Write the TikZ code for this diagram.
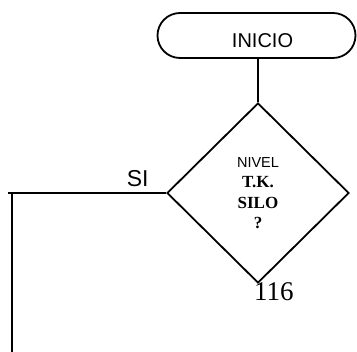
\documentclass[tikz,border=0pt]{standalone}
\usepackage{fontspec}
\setmainfont{Liberation Sans}
\newfontfamily\tnr{Liberation Serif}
\usetikzlibrary{shapes,positioning}

\begin{document}
\begin{tikzpicture}[x=1pt,y=1pt]
    \tikzset{terminal/.style = {shape=rounded rectangle,draw,line width=1.8pt,minimum width=198pt,minimum height=45pt,inner sep=0pt}}
    \tikzset{decision/.style = {shape=diamond,draw,line width=1.8pt,minimum width=182pt,minimum height=180pt,inner sep=0pt,align=center}}
    \tikzset{edge/.style = {line width=1.8pt}}
    \useasboundingbox (0,0) rectangle (357,-352);
    % vertices
    \node[terminal,font=\fontsize{20}{22}\selectfont] (inicio) at (256.5,-35.5)
        {\hspace*{12pt}\raisebox{-5pt}[\height][\depth]{INICIO}};
    \node[decision,font=\tnr\bfseries\fontsize{17}{20.5}\selectfont] (nivel) at (258,-193)
        {{\normalfont\fontsize{14.5}{20.5}\selectfont NIVEL}\\ T.K.\\ SILO\\ ?};
    \node[anchor=base west,inner sep=0pt] (num) at (254,-301) {\tnr\fontsize{27}{30}\selectfont 116};
    \coordinate (si) at (8,-193);
    \coordinate (codo) at (12,-193);
    \coordinate (fin) at (12,-352);
    \draw[edge] (nivel.north |- inicio.south) -- (nivel.north);
    \draw[edge] (nivel.west) -- (si) node[pos=0.18,anchor=base,yshift=6pt] {\fontsize{23}{25}\selectfont SI};
    \draw[line width=1.3pt] (codo) -- (fin);
\end{tikzpicture}
\end{document}
